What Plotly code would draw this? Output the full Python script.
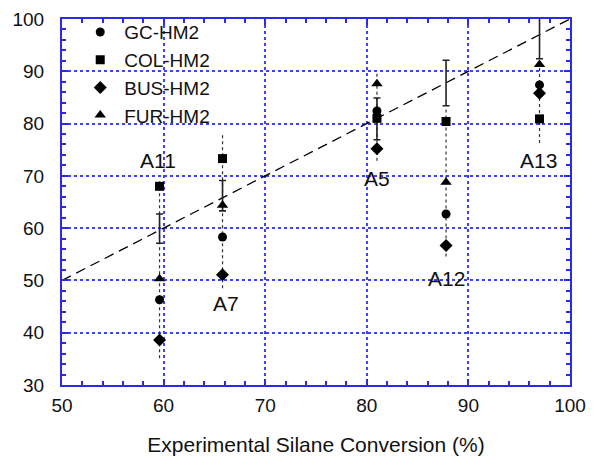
import plotly.graph_objects as go

# sample groups (experimental conversion on x)
groups = ["A11", "A7", "A5", "A12", "A13"]
x_exp = [59.6, 65.8, 81.0, 87.8, 97.0]

# predicted conversions per model
gc_hm2 = [46.3, 58.3, 82.4, 62.7, 87.4]
col_hm2 = [68.0, 73.3, 81.0, 80.4, 80.9]
bus_hm2 = [38.6, 51.1, 75.2, 56.7, 85.8]
fur_hm2 = [50.3, 64.4, 87.6, 68.8, 91.3]

# experimental error bar (centre and half-width)
err_center = [59.9, 66.2, 80.9, 87.75, 97.0]
err_half = [2.8, 2.9, 4.0, 4.35, 4.6]

# dotted range guides
range_lo = [35.1, 48.5, 72.9, 54.6, 76.3]
range_hi = [69.0, 78.2, 90.0, 83.2, 92.0]

# group label positions
label_x = [59.4, 66.1, 81.0, 87.8, 96.9]
label_y = [72.9, 45.5, 69.4, 50.3, 72.9]

parity = [50, 100]

BLUE_AX = "#2a2ae6"
BLUE_GRID = "#4040ff"
FONT = "Liberation Sans, Arial, sans-serif"

fig = go.Figure()

# vertical dotted guides
gx, gy = [], []
for x, lo, hi in zip(x_exp, range_lo, range_hi):
    gx += [x, x, None]
    gy += [lo, hi, None]
fig.add_trace(go.Scatter(x=gx, y=gy, mode="lines", showlegend=False, hoverinfo="skip",
                         line=dict(color="#333333", width=1.2, dash="dot")))

# parity line
fig.add_trace(go.Scatter(x=parity, y=parity, mode="lines", showlegend=False,
                         line=dict(color="black", width=1.3, dash="10px,6px")))

# error bars
fig.add_trace(go.Scatter(x=x_exp, y=err_center, mode="markers", showlegend=False,
                         marker=dict(size=1, color="rgba(0,0,0,0)"),
                         error_y=dict(type="data", array=err_half, visible=True,
                                      color="#222222", thickness=1.6, width=3.5)))

series = [
    ("GC-HM2", gc_hm2, "circle", 9),
    ("COL-HM2", col_hm2, "square", 9),
    ("BUS-HM2", bus_hm2, "diamond", 10),
    ("FUR-HM2", fur_hm2, "triangle-up", 10),
]
for name, vals, sym, size in series:
    fig.add_trace(go.Scatter(x=x_exp, y=vals, mode="markers", name=name,
                             marker=dict(symbol=sym, size=size, color="black")))

for g, lx, ly in zip(groups, label_x, label_y):
    fig.add_annotation(x=lx, y=ly, text=g, showarrow=False,
                       font=dict(size=21, color="#111111", family=FONT))

axis_common = dict(
    showline=True, linecolor=BLUE_AX, linewidth=2, mirror="ticks",
    ticks="inside", tickcolor=BLUE_AX, ticklen=6, tickwidth=1.5,
    showgrid=True, gridcolor=BLUE_GRID, griddash="dot", gridwidth=1.5,
    zeroline=False, dtick=10, automargin=False, ticklabeloverflow="allow",
    tickfont=dict(size=19, color="#111111", family=FONT),
    minor=dict(dtick=2, ticks="inside", ticklen=4, tickcolor=BLUE_AX, tickwidth=1.5, showgrid=False),
)

# the page body adds an 8px offset, margins compensate for it
fig.update_layout(
    width=598, height=459,
    paper_bgcolor="white", plot_bgcolor="white",
    margin=dict(l=54, r=36, t=11, b=82, autoexpand=False),
    font=dict(family=FONT, color="#111111"),
    xaxis=dict(range=[50, 100], ticklabelstandoff=2,
               title=dict(text="Experimental Silane Conversion (%)",
                          font=dict(size=21), standoff=23), **axis_common),
    yaxis=dict(range=[30, 100], ticklabelstandoff=12, **axis_common),
    legend=dict(x=0.028, y=1.016, xanchor="left", yanchor="top", bgcolor="rgba(0,0,0,0)",
                font=dict(size=19), itemwidth=38, tracegroupgap=0),
)

fig.write_html("out.html")
